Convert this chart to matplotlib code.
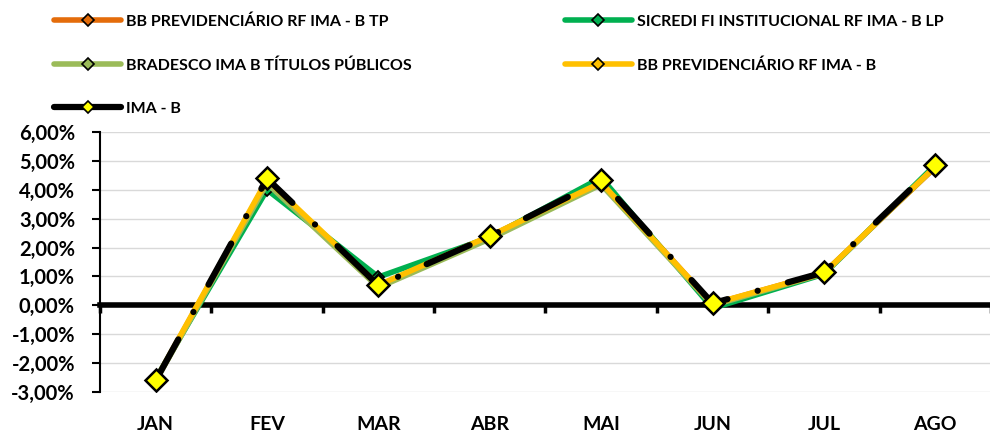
import matplotlib
matplotlib.use("Agg")
import matplotlib.pyplot as plt
from matplotlib.ticker import FuncFormatter
from matplotlib.lines import Line2D
from matplotlib.legend_handler import HandlerLine2D

plt.rcParams["font.family"] = ["Lato", "DejaVu Sans"]
plt.rcParams["font.weight"] = "bold"

# ── dados ────────────────────────────────────
meses = ["JAN", "FEV", "MAR", "ABR", "MAI", "JUN", "JUL", "AGO"]
bb_tp = [-2.60, 4.30, 0.66, 2.38, 4.28, 0.04, 1.12, 4.78]
sicredi = [-2.55, 4.00, 0.98, 2.35, 4.42, -0.10, 1.08, 4.86]
bradesco = [-2.62, 4.22, 0.62, 2.30, 4.18, 0.00, 1.10, 4.80]
bb_ima_b = [-2.58, 4.35, 0.70, 2.40, 4.25, 0.05, 1.12, 4.80]
ima_b = [-2.60, 4.39, 0.69, 2.39, 4.33, 0.07, 1.14, 4.84]

y_ticks = [-3, -2, -1, 0, 1, 2, 3, 4, 5, 6]

C_ORANGE = "#E46C0A"
C_GREEN = "#00B050"
C_LGREEN = "#9BBB59"
C_GOLD = "#FFC000"
C_YELLOW = "#FFFF00"

fig = plt.figure(figsize=(9.9, 4.33), dpi=100)
ax = fig.add_axes([0.101, 0.0947, 0.9, 0.6005])

x = list(range(len(meses)))

series = [
    ("BB PREVIDENCIÁRIO RF IMA - B TP", bb_tp, C_ORANGE),
    ("SICREDI FI INSTITUCIONAL RF IMA - B LP", sicredi, C_GREEN),
    ("BRADESCO IMA B TÍTULOS PÚBLICOS", bradesco, C_LGREEN),
    ("BB PREVIDENCIÁRIO RF IMA - B", bb_ima_b, C_GOLD),
]
handles = {}
for i, (nome, vals, cor) in enumerate(series):
    h, = ax.plot(x, vals, color=cor, lw=4, marker="D", ms=6.5,
                 mfc=cor, mec="black", mew=1.3, zorder=3 + i,
                 solid_capstyle="round", label=nome)
    handles[nome] = h

h_ima, = ax.plot(x, ima_b, color="black", lw=4.5,
                 linestyle=(0, (7.5, 5.0, 0.01, 5.0)),
                 dash_capstyle="round", marker="D", ms=11,
                 mfc=C_YELLOW, mec="black", mew=1.8, zorder=10,
                 label="IMA - B")

# ── eixos ────────────────────────────────────
ax.set_xlim(-0.5, len(meses) - 0.5)
ax.set_ylim(-3, 6)
ax.set_yticks(y_ticks)
ax.yaxis.set_major_formatter(FuncFormatter(lambda v, p: f"{v:.2f}%".replace(".", ",")))
ax.grid(axis="y", color="#D9D9D9", lw=1, zorder=0)
ax.set_axisbelow(True)

for s in ["top", "right"]:
    ax.spines[s].set_visible(False)
ax.spines["left"].set_linewidth(1.5)
ax.spines["bottom"].set_position(("data", 0))
ax.spines["bottom"].set_linewidth(4)
ax.spines["bottom"].set_zorder(2)

ax.tick_params(axis="y", direction="out", length=6, width=1.5,
               pad=12, labelsize=14.5)
ax.set_xticks([i - 0.5 for i in range(len(meses) + 1)])
ax.tick_params(axis="x", direction="out", length=6, width=2.5,
               labelbottom=False)

sec = ax.secondary_xaxis("bottom")
sec.set_xticks(x, meses)
sec.tick_params(length=0, pad=17, labelsize=14)
sec.spines["bottom"].set_visible(False)


# ── legenda ────────────────────────────────────
def leg_style(lh, oh):
    lh.update_from(oh)
    lh.set_markersize(6.5)
    lh.set_markeredgewidth(1.2)
    if oh is h_ima:
        lh.set_linestyle("-")
        lh.set_solid_capstyle("round")


leg_h = [handles[series[0][0]], handles[series[2][0]], h_ima,
         handles[series[1][0]], handles[series[3][0]]]
leg = fig.legend(handles=leg_h, labels=[h.get_label() for h in leg_h],
                 ncol=2, loc="upper left", bbox_to_anchor=(0.04, 1.0),
                 frameon=False, fontsize=11.5, handlelength=4.2,
                 handletextpad=0.3, labelspacing=1.83, columnspacing=9.6,
                 handler_map={Line2D: HandlerLine2D(update_func=leg_style)})
for t in leg.get_texts():
    t.set_fontweight("bold")

fig.savefig("out.png", dpi=100)
